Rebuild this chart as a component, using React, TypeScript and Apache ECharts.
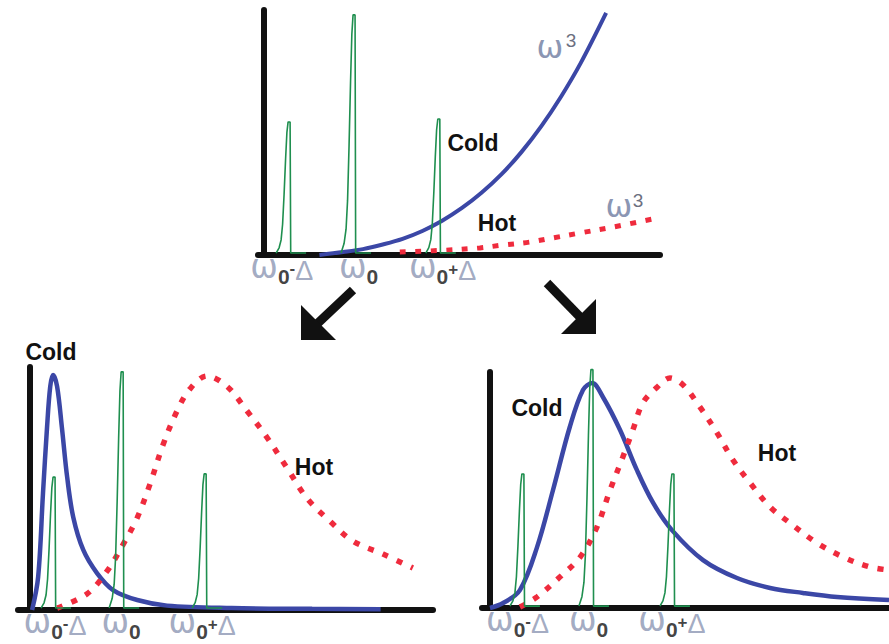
import React, { useEffect, useRef } from 'react';
import * as echarts from 'echarts';

// ---------- Top panel (ω³ weighting) ----------
const topBlueX = [14, 20, 25, 30, 35, 40, 45, 50, 55, 60, 65, 70, 75, 80, 86.4];
const topBlueY = [0, 1.2, 2.4, 4.3, 6.6, 9.8, 14, 19.2, 25.5, 33, 42, 52.5, 64.6, 78.4, 98.8];
const topRedX = [34.3, 45, 54.5, 60, 67.2, 73, 79.8, 88.1, 98.2];
const topRedY = [1.2, 1.9, 2.9, 4, 5.3, 7, 9, 11.4, 14.7];
const topPeakX = [6.1, 22.5, 43.9];
const topPeakH = [54.3, 98, 55.5];
const topLabelX = [4.5, 23.9, 45.1];

// ---------- Bottom-left panel ----------
const blBlueX = [0.5, 2, 3.2, 4.2, 5, 5.7, 6.7, 7.9, 9.2, 10.7, 13.2, 16.6, 20.6, 26.6, 34, 50, 70, 87];
const blBlueY = [0, 13.6, 48, 75, 92, 96.7, 92, 75, 54.7, 38.3, 24.7, 15.2, 8.2, 4.1, 1.8, 0.8, 0.5, 0.3];
const blRedX = [6.7, 14.1, 19.1, 23.1, 26.6, 29.8, 33, 36.5, 39.7, 43.9, 48.9, 53.8, 58.8, 63.8, 68.7, 74.4, 80.1, 87.6, 95];
const blRedY = [0.8, 6.6, 16, 27, 38, 52, 68, 82, 91, 96.3, 92, 82, 71, 58.4, 46, 36.6, 28.4, 23, 17.3];
const blPeakX = [5.7, 22.6, 43.2];
const blPeakH = [54.7, 98, 56];
const blLabelX = [6.2, 22.6, 42.7];

// ---------- Bottom-right panel ----------
const brBlueX = [0, 3.3, 7.5, 11.8, 15.8, 20, 23.3, 25.6, 28.3, 32.6, 36.8, 40.9, 45.6, 53.4, 61.9, 70.2, 78.4, 87, 100];
const brBlueY = [0, 2.1, 7.6, 25.8, 50, 76.7, 92.4, 95.3, 89.4, 75.4, 58.5, 44.5, 33, 20.3, 12.7, 8.5, 6.4, 4.7, 3.4];
const brRedX = [7.5, 11.8, 17.5, 22.6, 26.8, 30.1, 33.3, 35.8, 38.3, 41.9, 45.1, 48.4, 52.6, 56.9, 60.9, 65.2, 70.2, 75.2, 82, 88.5, 95.2, 100];
const brRedY = [0.4, 4.7, 13.1, 21.6, 34.3, 50, 64, 75.4, 86.9, 93.6, 97.5, 94.5, 85.2, 74.2, 62.7, 53, 42.8, 36, 27.5, 21.6, 17.4, 16.1];
const brPeakX = [8.0, 25.3, 45.6];
const brPeakH = [56.8, 101, 56.8];
const brLabelX = [6.9, 24.7, 45.6];

// Narrow probe-line profile (offset in px from the peak, fraction of peak height)
const peakOffsetPx = [-12, -9, -7, -5.5, -4, -2.5, -1.2, 0, 2, 2.6, 18];
const peakShape = [0, 0.04, 0.1, 0.22, 0.45, 0.72, 0.92, 1, 1, 0, 0];

const tickLabels = ['{w|ω}{s|0}{m|-}{d|Δ}', '{w|ω}{s|0}', '{w|ω}{s|0}{p|+}{d|Δ}'];

const zip = (xs: number[], ys: number[]) => xs.map((x, i) => [x, ys[i]]);

const BLUE = '#3b47a6';
const RED = '#ef2b3d';
const GREEN = '#1f8f4f';
const GREY = '#8b96b3';

const panels = [
  { grid: { left: 258, top: 10, width: 402, height: 245 }, xMin: -1.5, pxPerUnit: 3.96,
    blue: zip(topBlueX, topBlueY), red: zip(topRedX, topRedY), peakX: topPeakX, peakH: topPeakH, labelX: topLabelX,
    blueW: 4, redW: 5 },
  { grid: { left: 18, top: 367, width: 415, height: 243 }, xMin: -3, pxPerUnit: 4.03,
    blue: zip(blBlueX, blBlueY), red: zip(blRedX, blRedY), peakX: blPeakX, peakH: blPeakH, labelX: blLabelX,
    blueW: 4.5, redW: 5.5 },
  { grid: { left: 482, top: 372, width: 407, height: 236 }, xMin: -2, pxPerUnit: 3.99,
    blue: zip(brBlueX, brBlueY), red: zip(brRedX, brRedY), peakX: brPeakX, peakH: brPeakH, labelX: brLabelX,
    blueW: 4.5, redW: 5.5 },
];

const rich = {
  w: { fontFamily: 'DejaVu Sans', fontSize: 33, color: GREY, lineHeight: 40, verticalAlign: 'top' },
  s: { fontFamily: 'Liberation Sans', fontSize: 21, fontWeight: 'bold', color: '#111', lineHeight: 20, verticalAlign: 'bottom', padding: [0, 0, 3, 0] },
  m: { fontFamily: 'Liberation Sans', fontSize: 17, fontWeight: 'bold', color: '#111', lineHeight: 20, verticalAlign: 'top', padding: [10, 0, 0, 0] },
  p: { fontFamily: 'Liberation Sans', fontSize: 17, fontWeight: 'bold', color: '#111', lineHeight: 20, verticalAlign: 'top', padding: [11, 0, 0, 0] },
  d: { fontFamily: 'Liberation Sans', fontSize: 27, color: GREY, lineHeight: 30, verticalAlign: 'bottom', padding: [0, 0, 5, 0] },
};

function buildOption() {
  const axisLine = { show: true, lineStyle: { color: '#111', width: 6 } };
  const grid: any[] = [];
  const xAxis: any[] = [];
  const yAxis: any[] = [];
  const series: any[] = [];
  panels.forEach((p, i) => {
    grid.push(p.grid);
    xAxis.push({ type: 'value', gridIndex: i, min: p.xMin, max: 100, axisLine, axisTick: { show: false },
      axisLabel: { show: false }, splitLine: { show: false } });
    yAxis.push({ type: 'value', gridIndex: i, min: 0, max: 100, axisLine, axisTick: { show: false },
      axisLabel: { show: false }, splitLine: { show: false } });
    series.push({ type: 'line', xAxisIndex: i, yAxisIndex: i, data: p.blue, showSymbol: false, symbol: 'none',
      smooth: 0.35, clip: false, lineStyle: { color: BLUE, width: p.blueW }, z: 3, silent: true });
    series.push({ type: 'line', xAxisIndex: i, yAxisIndex: i, data: p.red, showSymbol: false, symbol: 'none',
      smooth: 0.35, clip: false, lineStyle: { color: RED, width: p.redW, type: [6, 9.5], cap: 'butt' }, z: 4, silent: true });
    p.peakX.forEach((cx, k) => {
      const h = p.peakH[k];
      const data = peakOffsetPx.map((o, j) => [cx + o / p.pxPerUnit, 0.8 + peakShape[j] * (h - 0.8)]);
      series.push({ type: 'line', xAxisIndex: i, yAxisIndex: i, data, showSymbol: false, symbol: 'none',
        clip: false, lineStyle: { color: GREEN, width: 1.6 }, z: 5, silent: true });
    });
    series.push({ type: 'scatter', xAxisIndex: i, yAxisIndex: i, symbolSize: 1, silent: true, z: 6,
      itemStyle: { color: 'rgba(0,0,0,0)' },
      label: { show: true, position: 'bottom', distance: -6, rich },
      data: p.labelX.map((x, k) => ({ value: [x, 0], label: { formatter: tickLabels[k] } })) });
  });

  const word = (text: string, x: number, y: number) => ({
    type: 'text', x, y, silent: true, z: 10,
    style: { text, fill: '#111', fontFamily: 'Liberation Sans', fontSize: 23, fontWeight: 'bold', align: 'center', verticalAlign: 'middle' },
  });
  const omega = (x: number, y: number) => ({
    type: 'text', x, y, silent: true, z: 10,
    style: { text: 'ω', fill: GREY, fontFamily: 'DejaVu Sans', fontSize: 32, align: 'center', verticalAlign: 'middle' },
  });
  const cube = (x: number, y: number) => ({
    type: 'text', x, y, silent: true, z: 10,
    style: { text: '3', fill: '#6c6f80', fontFamily: 'Liberation Sans', fontSize: 19, align: 'center', verticalAlign: 'middle' },
  });

  const graphic = [
    word('Cold', 473, 143), word('Hot', 497, 223),
    omega(550, 47), cube(571, 40), omega(619, 206), cube(638, 200),
    word('Cold', 51, 352), word('Hot', 314, 467),
    word('Cold', 537, 408), word('Hot', 777, 453),
    { type: 'line', shape: { x1: 353, y1: 290, x2: 318, y2: 323 }, style: { stroke: '#111', lineWidth: 9 } },
    { type: 'polygon', shape: { points: [[301, 340], [301, 305], [336, 340]] }, style: { fill: '#111' } },
    { type: 'line', shape: { x1: 547, y1: 283, x2: 581, y2: 318 }, style: { stroke: '#111', lineWidth: 9 } },
    { type: 'polygon', shape: { points: [[596, 334], [596, 299], [561, 334]] }, style: { fill: '#111' } },
  ];

  return { animation: false, backgroundColor: '#fff', grid, xAxis, yAxis, series, graphic };
}

export default function App() {
  const ref = useRef<HTMLDivElement>(null);
  useEffect(() => {
    if (!ref.current) return;
    const chart = echarts.init(ref.current, undefined, { renderer: 'svg' });
    chart.setOption(buildOption() as any);
    return () => chart.dispose();
  }, []);
  return <div ref={ref} style={{ position: 'fixed', left: 0, top: 0, width: 889, height: 644 }} />;
}
